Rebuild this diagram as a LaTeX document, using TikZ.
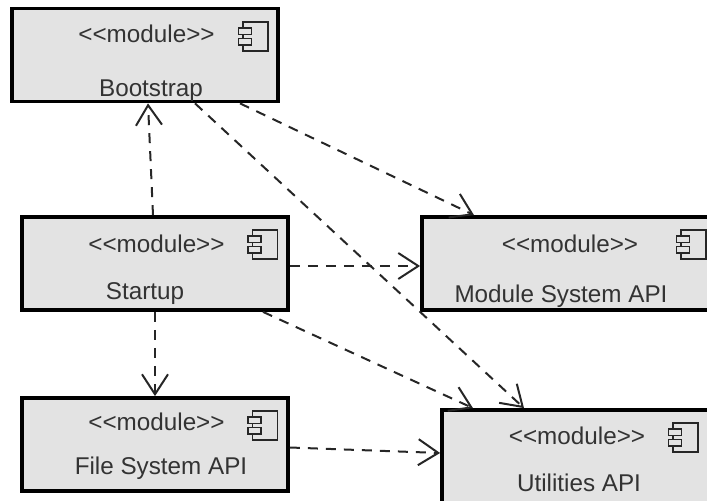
\documentclass[tikz,border=0pt]{standalone}
\usepackage{fontspec}
\setmainfont{Liberation Sans}
\usetikzlibrary{calc,arrows.meta}

\begin{document}
\begin{tikzpicture}[
    module/.style={rectangle, minimum width=5.32cm, minimum height=1.86cm, draw=black, line width=0.075cm, fill=black!11, inner sep=0pt},
    label/.style={font=\fontsize{13.8}{16}\selectfont, text=black!80, inner sep=0pt, anchor=base},
    icon/.style={rectangle, draw=black!85, line width=0.03cm, minimum width=0.5cm, minimum height=0.58cm, inner sep=0pt},
    tab/.style={rectangle, draw=black!85, fill=black!11, line width=0.03cm, minimum width=0.26cm, minimum height=0.13cm, inner sep=0pt},
    arrow/.style={draw=black!85, line width=0.04cm, dash pattern=on 0.2cm off 0.16cm, -{Straight Barb[length=0.4cm, width=0.52cm, line width=0.04cm]}}
]
\useasboundingbox (0,0) rectangle (14.14,-10.02);

% Modules
\node[module] (bootstrap) at (2.9,-1.1) {};
\node[module] (startup) at (3.1,-5.27) {};
\node[module] (filesystem) at (3.1,-8.89) {};
\node[module, minimum width=6.16cm] (modulesystem) at (11.52,-5.27) {};
\node[module, minimum width=5.76cm, minimum height=2.2cm] (utilities) at (11.72,-9.3) {};

% Stereotypes
\node[label] (stereo1) at (2.93,-0.86) {<{}<module>{}>};
\node[label] (stereo2) at (3.13,-5.04) {<{}<module>{}>};
\node[label] (stereo3) at (3.13,-8.6) {<{}<module>{}>};
\node[label] (stereo4) at (11.4,-5.04) {<{}<module>{}>};
\node[label] (stereo5) at (11.54,-8.88) {<{}<module>{}>};

% Names
\node[label] (name1) at (3.02,-1.94) {Bootstrap};
\node[label] (name2) at (2.9,-5.98) {Startup};
\node[label] (name3) at (3.22,-9.48) {File System API};
\node[label] (name4) at (11.22,-6.04) {Module System API};
\node[label] (name5) at (11.58,-9.82) {Utilities API};

% Component icons
\foreach \name/\x/\y in {a/5.11/-0.73, b/5.3/-4.89, c/5.3/-8.51, d/13.87/-4.89, e/13.71/-8.75} {
    \node[icon] (icon\name) at (\x,\y) {};
    \node[tab] (tab\name1) at ($(icon\name.west)+(0.05,0.105)$) {};
    \node[tab] (tab\name2) at ($(icon\name.west)+(0.05,-0.105)$) {};
}

% Dependencies
\draw[arrow] ($(startup.north)+(-0.04,0)$) -- ($(bootstrap.south)+(0.06,0)$);
\draw[arrow] ($(bootstrap.south)+(1.9,0)$) -- ($(modulesystem.north)+(-2.04,0)$);
\draw[arrow] ($(bootstrap.south)+(1,0)$) -- ($(utilities.north)+(-1.24,0)$);
\draw[arrow] ($(startup.east)+(0,-0.05)$) -- ($(modulesystem.west)+(0,-0.05)$);
\draw[arrow] ($(startup.south)+(2.16,0)$) -- ($(utilities.north)+(-2.26,0)$);
\draw[arrow] (startup.south) -- (filesystem.north);
\draw[arrow] ($(filesystem.east)+(0,-0.06)$) -- ($(utilities.west)+(0,0.24)$);

\end{tikzpicture}
\end{document}
